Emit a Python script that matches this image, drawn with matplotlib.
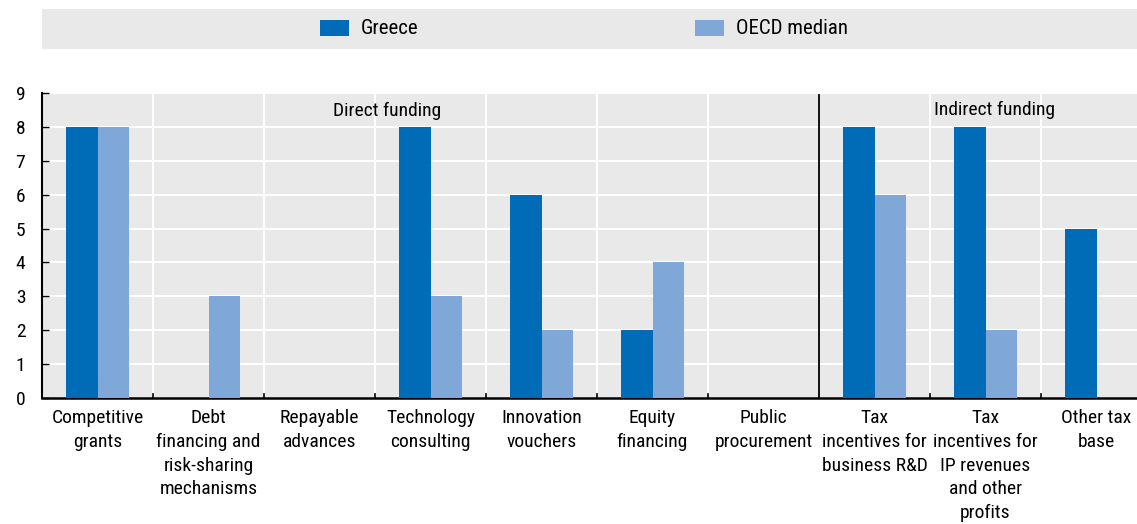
import matplotlib
matplotlib.use("Agg")
import matplotlib.pyplot as plt
from matplotlib import font_manager
from matplotlib.patches import Rectangle
import numpy as np

categories = ["Competitive\ngrants", "Debt\nfinancing and\nrisk-sharing\nmechanisms", "Repayable\nadvances",
              "Technology\nconsulting", "Innovation\nvouchers", "Equity\nfinancing", "Public\nprocurement",
              "Tax\nincentives for\nbusiness R&D", "Tax\nincentives for\nIP revenues\nand other\nprofits",
              "Other tax\nbase"]
greece = [8, 0, 0, 8, 6, 2, 0, 8, 8, 5]
oecd = [8, 3, 0, 3, 2, 4, 0, 6, 2, 0]
series_names = ["Greece", "OECD median"]
group_labels = ["Direct funding", "Indirect funding"]

fam = "Liberation Sans"
narrow = False
for cand in ["Liberation Sans Narrow", "Arial Narrow", "Roboto Condensed", "Open Sans Condensed"]:
    try:
        font_manager.findfont(cand, fallback_to_default=False)
        fam = cand
        narrow = True
        break
    except Exception:
        pass
plt.rcParams['font.family'] = [fam, 'DejaVu Sans']
fs = 14 if narrow else 12.5
ls = 1.41 if narrow else 1.38
lfs = 15 if narrow else 13

c_gr = "#006BB6"
c_oe = "#7FA8D9"
bg = "#E9E9E9"

fig = plt.figure(figsize=(11.37, 5.24), dpi=100)
W, H = 1137, 524
ax = fig.add_axes([42 / W, 1 - 398 / H, (W - 42) / W, (398 - 93) / H])
ax.set_facecolor(bg)

x = np.arange(len(categories))
bw = 0.285
ax.bar(x - bw / 2, greece, bw, color=c_gr, zorder=3)
ax.bar(x + bw / 2, oecd, bw, color=c_oe, zorder=3)

ax.set_ylim(0, 9)
ax.set_xlim(-0.5, -0.5 + (W - 42) / 111.0)
ax.set_yticks(range(10))
ax.set_yticklabels([str(i) for i in range(10)], fontsize=14)
ax.set_xticks(x)
ax.set_xticklabels(categories, fontsize=fs, linespacing=ls, va="top")
ax.tick_params(axis="x", length=0, pad=8)
ax.tick_params(axis="y", direction="in", length=5, width=1, pad=12, color="black")
for yv in range(1, 10):
    ax.axhline(yv, color="white", lw=1.5, zorder=1)
for b in np.arange(0.5, 9.6, 1.0):
    if abs(b - 6.5) > 0.01:
        ax.axvline(b, color="white", lw=1.5, zorder=1)
        ax.plot([b, b], [0, 0.12], color="black", lw=1.2, zorder=4, clip_on=False)
ax.plot([6.5, 6.5], [0, 8.95], color="black", lw=1.3, zorder=4)

for s in ["top", "right"]:
    ax.spines[s].set_visible(False)
ax.spines["left"].set_linewidth(1.5)
ax.spines["bottom"].set_linewidth(1.8)

ax.text(2.61, 8.47, group_labels[0], ha="center", va="center", fontsize=fs, zorder=5)
ax.text(8.08, 8.5, group_labels[1], ha="center", va="center", fontsize=fs, zorder=5)

# legend band
fig.patches.append(Rectangle((42 / W, 1 - 49 / H), (W - 42) / W, 40 / H,
                             transform=fig.transFigure, facecolor=bg, edgecolor="none"))
ly = 1 - 29 / H
for px, name, col in [(320, series_names[0], c_gr), (695, series_names[1], c_oe)]:
    fig.patches.append(Rectangle((px / W, 1 - 36 / H), 29 / W, 16 / H,
                                 transform=fig.transFigure, facecolor=col, edgecolor="none"))
    fig.text((px + 41) / W, ly, name, fontsize=lfs, va="center", ha="left")

fig.savefig("out.png", dpi=100)
